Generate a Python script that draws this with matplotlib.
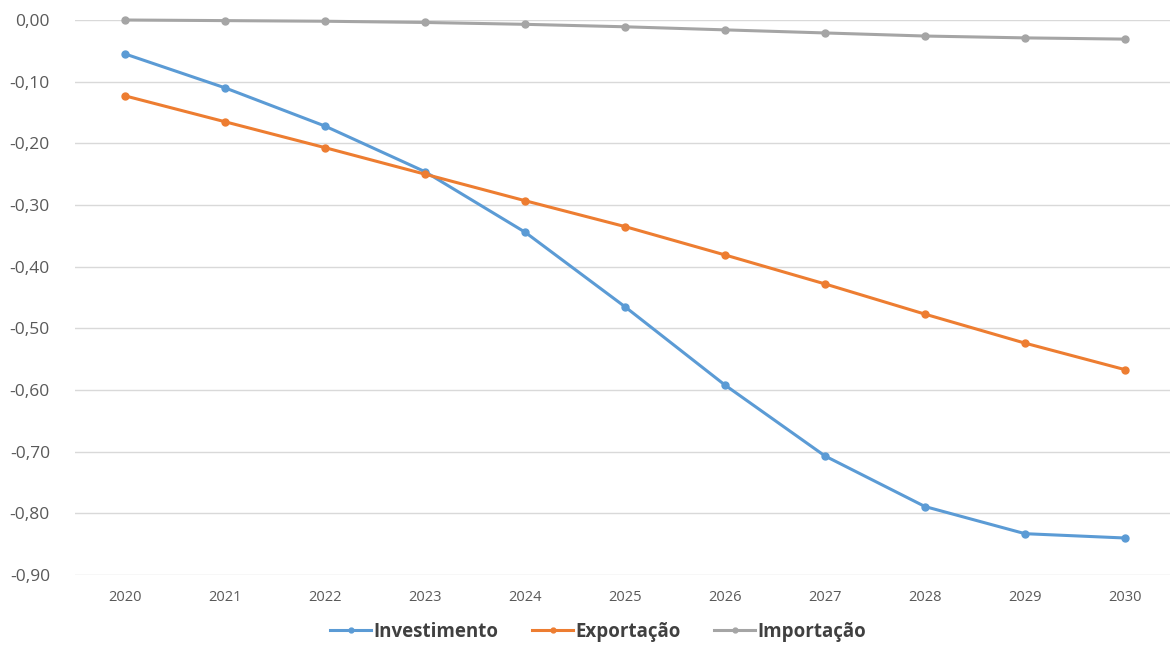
import matplotlib
matplotlib.use("Agg")
import matplotlib.pyplot as plt
from matplotlib.ticker import FuncFormatter

years = ["2020", "2021", "2022", "2023", "2024", "2025", "2026", "2027", "2028", "2029", "2030"]
investimento = [-0.055, -0.110, -0.172, -0.246, -0.344, -0.465, -0.592, -0.707, -0.789, -0.833, -0.840]
exportacao = [-0.123, -0.165, -0.207, -0.250, -0.293, -0.335, -0.381, -0.428, -0.477, -0.524, -0.567]
importacao = [0.000, -0.001, -0.002, -0.004, -0.007, -0.011, -0.016, -0.021, -0.026, -0.029, -0.031]
series_names = ["Investimento", "Exportação", "Importação"]
colors = ["#5B9BD5", "#ED7D31", "#A5A5A5"]
yticks = [0.0, -0.1, -0.2, -0.3, -0.4, -0.5, -0.6, -0.7, -0.8, -0.9]

plt.rcParams['font.family'] = ['Open Sans', 'DejaVu Sans']

fig = plt.figure(figsize=(11.70, 6.46), dpi=100)
ax = fig.add_axes([75/1170, 1-575/646, 1 - 75/1170, (575-20)/646])

x = list(range(len(years)))
for vals, name, c in zip([investimento, exportacao, importacao], series_names, colors):
    ax.plot(x, vals, color=c, lw=2.2, marker='o', ms=5, label=name, clip_on=False, zorder=3)

ax.set_xlim(-0.5, 10.45)
ax.set_ylim(-0.9, 0.0)
ax.set_yticks(yticks)
ax.yaxis.set_major_formatter(FuncFormatter(lambda v, p: f"{v:.2f}".replace(".", ",").replace("-0,00", "0,00")))
ax.set_xticks(x)
ax.set_xticklabels(years)
ax.grid(axis='y', color='#D9D9D9', lw=1)
ax.set_axisbelow(True)
for s in ax.spines.values():
    s.set_visible(False)
ax.tick_params(axis='both', length=0)
ax.tick_params(axis='y', labelsize=12.5, labelcolor='#595959', pad=18)
ax.tick_params(axis='x', labelsize=10.5, labelcolor='#595959', pad=11)

leg = fig.legend(loc='center', bbox_to_anchor=(598/1170, 1-632/646), ncol=3, frameon=False,
                 prop={'weight': 'bold', 'size': 13.5}, handlelength=2.2, handletextpad=0.1,
                 columnspacing=1.8, markerscale=0.7)
for t in leg.get_texts():
    t.set_color('#404040')

fig.savefig("out.png", dpi=100)
